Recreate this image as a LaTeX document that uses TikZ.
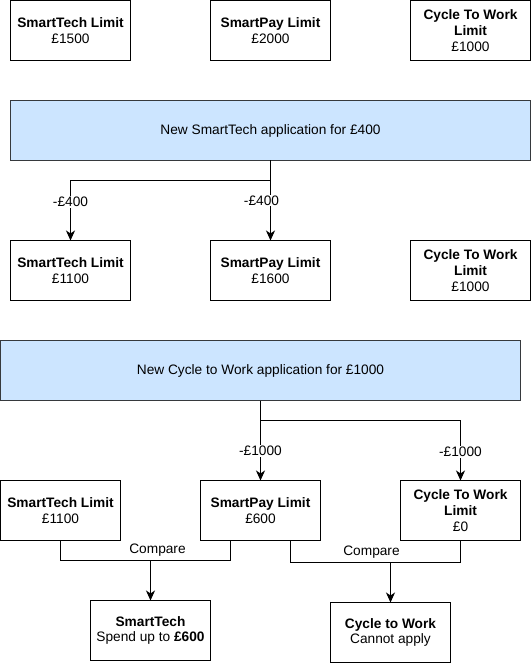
\documentclass[tikz,border=0pt]{standalone}
\usepackage{fontspec}
\setmainfont{Liberation Sans}
\usetikzlibrary{arrows.meta, calc, positioning}
\definecolor{appfill}{HTML}{CCE5FF}
\definecolor{appdraw}{HTML}{36393D}
\tikzstyle{block} = [rectangle, draw, line width=1pt, outer sep=0pt, minimum width=120pt, minimum height=60pt, align=center, font=\fontsize{13.7}{15.8}\selectfont]
\tikzstyle{wide} = [block, draw=appdraw, fill=appfill, minimum width=520pt]
\tikzstyle{wire} = [draw, line width=1pt]
\tikzstyle{line} = [wire, -{Stealth[length=10pt, width=9pt, inset=3pt]}]
\tikzstyle{amount} = [fill=white, inner sep=1pt, font=\fontsize{13.7}{15.8}\selectfont]
\tikzstyle{note} = [inner sep=0pt, font=\fontsize{13.7}{15.8}\selectfont]

\begin{document}
\begin{tikzpicture}[x=1pt, y=-1pt]
        \useasboundingbox (-0.5,-0.5) rectangle (530.5,662.5);

        \node[block] (00) at (70,30) {\textbf{SmartTech Limit}\\£1500};

        \node[block, right=80pt of 00] (01) {\textbf{SmartPay Limit}\\£2000};

        \node[block, right=80pt of 01] (02) {\textbf{Cycle To Work}\\\textbf{Limit}\\£1000};

        \node[wide, below=40pt of 01] (03) {New SmartTech application for £400};

        \node[block, below=80pt of 03] (05) {\textbf{SmartPay Limit}\\£1600};
        \node[block, left=80pt of 05] (04) {\textbf{SmartTech Limit}\\£1100};
        \node[block, right=80pt of 05] (06) {\textbf{Cycle To Work}\\\textbf{Limit}\\£1000};
        \path[line] (03.south) -- ++(0,20) -| (04.north) node[amount, pos=0.68] {-£400};
        \path[line] (03) -- (05) node[amount, pos=0.5, xshift=-9pt] {-£400};

        \node[wide, below=40pt of 05, xshift=-10pt] (07) {New Cycle to Work application for £1000};

        \node[block, below=80pt of 07] (09) {\textbf{SmartPay Limit}\\£600};
        \node[block, left=80pt of 09] (08) {\textbf{SmartTech Limit}\\£1100};
        \node[block, right=80pt of 09] (10) {\textbf{Cycle To Work}\\\textbf{Limit}\\£0};
        \path[line] (07) -- (09) node[amount, pos=0.63] {-£1000};
        \path[line] (07.south) -- ++(0,20) -| (10.north) node[amount, pos=0.76] {-£1000};

        \node[block, below=60pt of 08, xshift=90pt] (11) {\textbf{SmartTech}\\Spend up to \textbf{£600}};
        \coordinate (c1) at ($(11.north)+(0,-40)$);
        \path[wire] (08.south) |- (c1);
        \path[wire] ([xshift=-30pt]09.south) |- (c1);
        \path[line] (c1) -- (11);
        \node[note] at ([xshift=7pt, yshift=10pt]c1) {Compare};

        \node[block, below=62pt of 09, xshift=130pt] (12) {\textbf{Cycle to Work}\\Cannot apply};
        \coordinate (c2) at ($(12.north)+(0,-40)$);
        \path[wire] ([xshift=30pt]09.south) |- (c2);
        \path[wire] (10.south) |- (c2);
        \path[line] (c2) -- (12);
        \node[note] at ([xshift=-19pt, yshift=10pt]c2) {Compare};
    \end{tikzpicture}
\end{document}
